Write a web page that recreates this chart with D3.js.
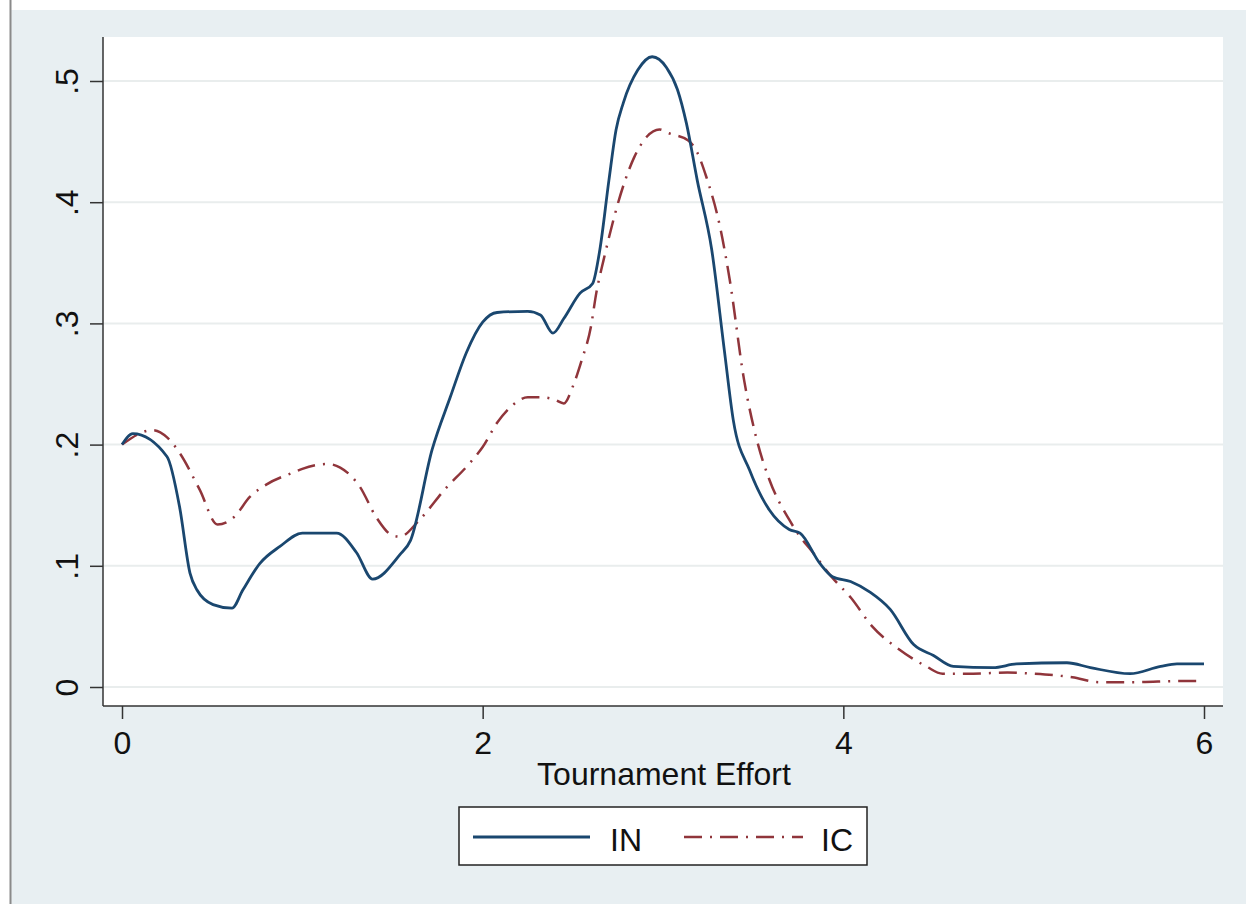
<!DOCTYPE html>
<html><head><meta charset="utf-8">
<script src="https://cdn.jsdelivr.net/npm/d3@7"></script>
<style>body{margin:0;background:#fff}svg{display:block;font-family:"Liberation Sans",Arial,sans-serif}</style>
</head><body>
<script>
const inX = [0,0.06,0.25,0.32,0.377,0.416,0.505,0.61,0.67,0.765,0.876,1.0,1.19,1.30,1.39,1.54,1.6,1.72,1.82,1.91,2.0,2.08,2.25,2.32,2.39,2.45,2.54,2.61,2.65,2.70,2.74,2.78,2.86,2.94,3.02,3.08,3.13,3.19,3.27,3.34,3.39,3.48,3.59,3.70,3.76,3.87,3.94,4.04,4.15,4.26,4.39,4.50,4.61,4.83,4.96,5.24,5.37,5.59,5.76,5.85,6.0];
const inY = [0.200,0.209,0.190,0.148,0.094,0.080,0.068,0.065,0.080,0.102,0.116,0.127,0.127,0.111,0.089,0.109,0.121,0.196,0.239,0.276,0.301,0.309,0.310,0.307,0.292,0.304,0.325,0.333,0.361,0.418,0.460,0.482,0.509,0.520,0.511,0.493,0.465,0.418,0.361,0.278,0.220,0.179,0.146,0.130,0.127,0.102,0.091,0.087,0.078,0.064,0.035,0.026,0.017,0.016,0.019,0.020,0.016,0.011,0.017,0.019,0.019];
const icX = [0,0.17,0.25,0.32,0.43,0.53,0.62,0.71,0.80,0.95,1.0,1.14,1.21,1.32,1.41,1.50,1.54,1.65,1.79,1.93,2.0,2.08,2.17,2.25,2.33,2.40,2.45,2.50,2.55,2.60,2.63,2.67,2.79,2.84,2.91,2.98,3.03,3.14,3.19,3.24,3.32,3.37,3.45,3.52,3.59,3.70,3.76,3.82,3.94,4.04,4.16,4.31,4.46,4.55,4.72,4.91,5.05,5.27,5.42,5.61,5.88,6.0];
const icY = [0.200,0.212,0.206,0.193,0.163,0.134,0.140,0.157,0.167,0.177,0.180,0.184,0.181,0.165,0.140,0.125,0.124,0.138,0.163,0.185,0.198,0.218,0.233,0.239,0.239,0.237,0.234,0.248,0.270,0.297,0.325,0.352,0.418,0.437,0.454,0.460,0.457,0.451,0.441,0.421,0.377,0.336,0.253,0.204,0.171,0.138,0.124,0.113,0.090,0.074,0.050,0.031,0.017,0.011,0.011,0.012,0.011,0.008,0.004,0.004,0.005,0.005];
const xTicks = [0,2,4,6];
const yTicks = [0,0.1,0.2,0.3,0.4,0.5];
const yTickLabels = ["0",".1",".2",".3",".4",".5"];
const seriesNames = ["IN","IC"];
const xTitle = "Tournament Effort";

const W=1246,H=904;
const svg=d3.select("body").append("svg").attr("width",W).attr("height",H);
svg.append("rect").attr("width",W).attr("height",H).attr("fill","#fff");
svg.append("rect").attr("x",11).attr("y",10).attr("width",W-11).attr("height",H-10).attr("fill","#e8eff2");
svg.append("line").attr("x1",10.5).attr("x2",10.5).attr("y1",0).attr("y2",H).attr("stroke","#8a8a8a").attr("stroke-width",2);

const L=103,R=1223,T=37,B=706;
svg.append("rect").attr("x",L).attr("y",T).attr("width",R-L).attr("height",B-T).attr("fill","#fff");

const x=d3.scaleLinear().domain([0,6]).range([122,1204]);
const y=d3.scaleLinear().domain([0,0.5]).range([687,81]);

// gridlines
svg.append("g").selectAll("line").data(yTicks).join("line")
  .attr("x1",L).attr("x2",R).attr("y1",d=>y(d)).attr("y2",d=>y(d))
  .attr("stroke","#e9eded").attr("stroke-width",2);

const FS=32;
// y axis
const ya=svg.append("g").attr("transform",`translate(${L},0)`)
  .call(d3.axisLeft(y).tickValues(yTicks).tickSize(13).tickFormat((d,i)=>yTickLabels[i]));
ya.select(".domain").attr("d",`M0,${T}V${B}`).attr("stroke","#333").attr("stroke-width",1.5);
ya.selectAll(".tick line").attr("stroke","#333").attr("stroke-width",1.5);
ya.selectAll(".tick text").attr("font-size",FS).attr("fill","#111")
  .attr("x",0).attr("dy",null).attr("text-anchor","middle")
  .attr("transform","translate(-25,0) rotate(-90)");

// x axis
const xa=svg.append("g").attr("transform",`translate(0,${B})`)
  .call(d3.axisBottom(x).tickValues(xTicks).tickSize(13).tickFormat(d3.format("d")));
xa.select(".domain").attr("d",`M${L},0H${R}`).attr("stroke","#333").attr("stroke-width",1.5);
xa.selectAll(".tick line").attr("stroke","#333").attr("stroke-width",1.5);
xa.selectAll(".tick text").attr("font-size",FS).attr("fill","#111").attr("y",48).attr("dy",null);

svg.append("text").attr("x",664).attr("y",785).attr("text-anchor","middle")
  .attr("font-size",FS).attr("fill","#111").text(xTitle);

const line=d3.line().x(d=>x(d[0])).y(d=>y(d[1])).curve(d3.curveMonotoneX);
const colIN="#1a476f", colIC="#90353b";
const dashIC="18,8,2,8";
svg.append("path").datum(icX.map((v,i)=>[v,icY[i]])).attr("d",line)
  .attr("fill","none").attr("stroke",colIC).attr("stroke-width",2.5).attr("stroke-dasharray",dashIC);
svg.append("path").datum(inX.map((v,i)=>[v,inY[i]])).attr("d",line)
  .attr("fill","none").attr("stroke",colIN).attr("stroke-width",2.8);

// legend
const lg=svg.append("g");
lg.append("rect").attr("x",459).attr("y",807).attr("width",408).attr("height",58)
  .attr("fill","#fff").attr("stroke","#222").attr("stroke-width",1.5);
lg.append("line").attr("x1",473).attr("x2",590).attr("y1",837).attr("y2",837)
  .attr("stroke",colIN).attr("stroke-width",2.8);
lg.append("text").attr("x",610).attr("y",851).attr("font-size",FS).attr("fill","#111").text(seriesNames[0]);
lg.append("line").attr("x1",684).attr("x2",803).attr("y1",837).attr("y2",837)
  .attr("stroke",colIC).attr("stroke-width",2.5).attr("stroke-dasharray",dashIC);
lg.append("text").attr("x",821).attr("y",851).attr("font-size",FS).attr("fill","#111").text(seriesNames[1]);
</script>
</body></html>
